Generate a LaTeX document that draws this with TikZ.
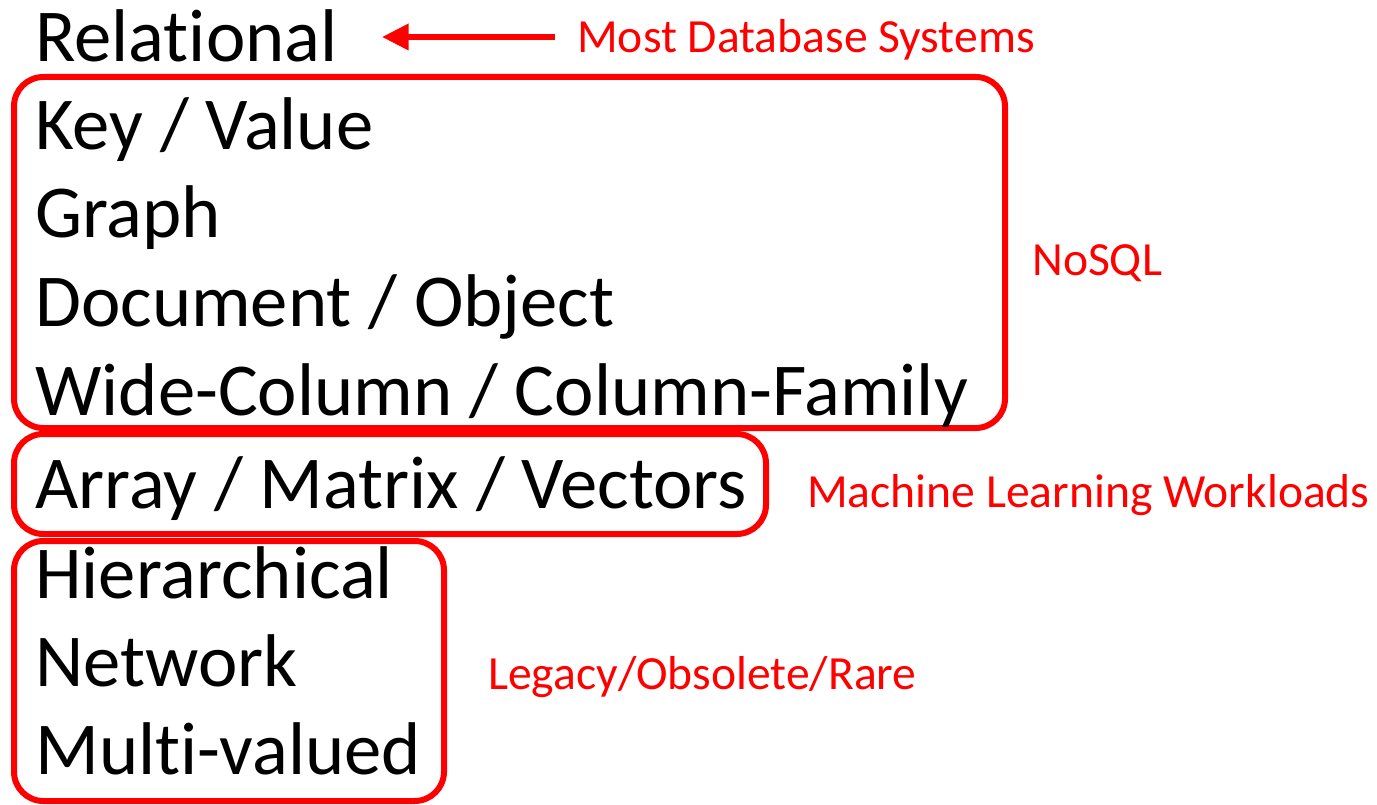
\documentclass[tikz,border=0pt]{standalone}
\usepackage{fontspec}
\setmainfont{Carlito}[Ligatures=NoCommon]
\usetikzlibrary{arrows.meta}
\definecolor{slidered}{RGB}{255,0,0}
\tikzset{
  model/.style={anchor=base west, inner sep=0pt, font=\fontsize{56}{56}\selectfont},
  remark/.style={anchor=base west, inner sep=0pt, text=slidered, font=\fontsize{35.7}{35.7}\selectfont},
  groupbox/.style={draw=slidered, line width=4.5pt, rounded corners=22pt},
}

\begin{document}
\begin{tikzpicture}[x=0.75pt,y=-0.75pt]
\useasboundingbox (0,0) rectangle (1377,805);
\draw[groupbox] (14,77) rectangle (1005,428);
\draw[groupbox] (14,434) rectangle (766,534);
\draw[groupbox] (14,541) rectangle (444,801);
\node[model] (rel) at (35,62) {Relational};
\node[model] (kv) at (35,150) {Key / Value};
\node[model] (graph) at (35,238) {Graph};
\node[model] (doc) at (35,327) {Document / Object};
\node[model] (wide) at (35,415) {Wide-Column / Column-Family};
\node[model] (array) at (35,508) {Array / Matrix / Vectors};
\node[model] (hier) at (35,598) {Hierarchical};
\node[model] (net) at (35,686) {Network};
\node[model] (multi) at (35,774) {Multi-valued};
\node[remark] (most) at (577,53) {Most Database Systems};
\node[remark] (nosql) at (1032,276) {NoSQL};
\node[remark] (ml) at (807,507) {Machine Learning Workloads};
\node[remark] (legacy) at (488,689) {Legacy/Obsolete/Rare};
\coordinate (tail) at (555,37);
\coordinate (tip) at (382,37);
\draw[slidered, line width=4.5pt, -{Triangle[length=20pt, width=19pt]}] (tail) -- (tip);
\end{tikzpicture}
\end{document}
